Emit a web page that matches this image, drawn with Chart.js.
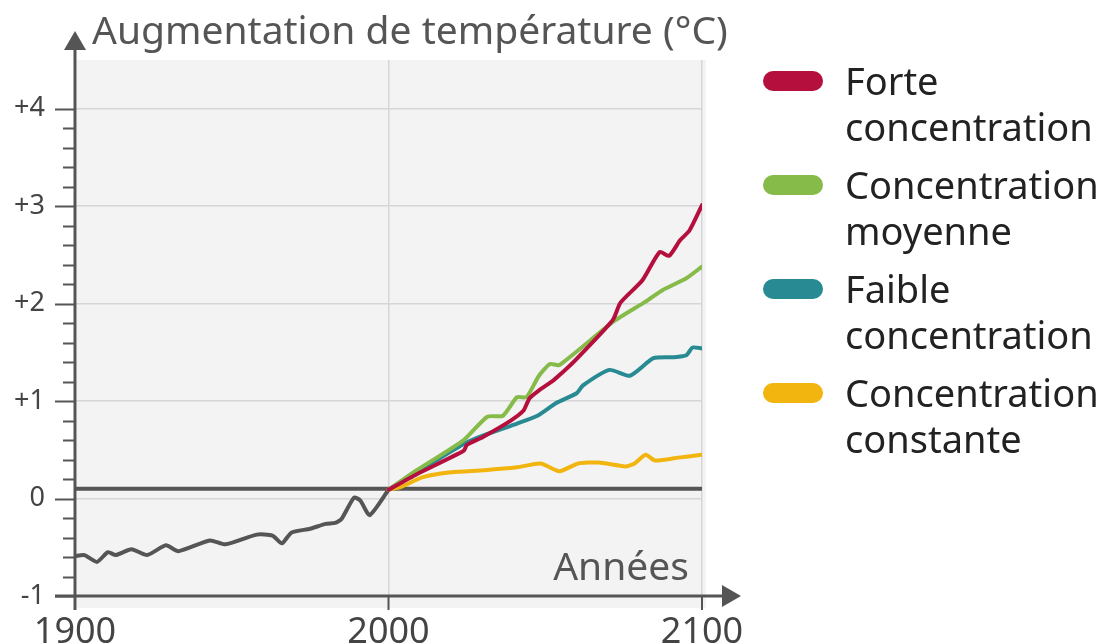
<!DOCTYPE html>
<html>
<head>
<meta charset="utf-8">
<script src="https://cdn.jsdelivr.net/npm/chart.js@4.4.1/dist/chart.umd.min.js"></script>
<style>
  html, body { margin: 0; padding: 0; background: #fff; }
  #wrap { position: relative; width: 1110px; height: 644px; overflow: hidden; }
  #legend { position: absolute; left: 763px; top: 57px; font-family: "Noto Sans", sans-serif; font-size: 38px; color: #222; }
  .item { position: relative; padding-left: 82px; line-height: 46px; margin-bottom: 12px; white-space: nowrap; }
  .swatch { position: absolute; left: 0; top: 14px; width: 60px; height: 20px; border-radius: 10px; }
</style>
</head>
<body>
<div id="wrap">
  <canvas id="chart" width="1110" height="644"></canvas>
  <div id="legend"></div>
</div>
<script>
// observed warming 1900-2000
const histYears  = [1900, 1903, 1907, 1910.5, 1913, 1918, 1923, 1929, 1933, 1943, 1948, 1958, 1963, 1966, 1969, 1975, 1980, 1983, 1985, 1989, 1991, 1994, 2000];
const histValues = [-0.59, -0.58, -0.65, -0.55, -0.58, -0.52, -0.58, -0.48, -0.54, -0.43, -0.47, -0.37, -0.38, -0.46, -0.35, -0.31, -0.26, -0.25, -0.21, 0.01, -0.02, -0.17, 0.09];

// scenarios 2000-2100
const forteYears  = [2000, 2009, 2024, 2025, 2030, 2039, 2043, 2045, 2048, 2052.5, 2055, 2059, 2071.5, 2074, 2081, 2086.5, 2089.5, 2093, 2096, 2100];
const forteValues = [0.09, 0.25, 0.49, 0.55, 0.63, 0.80, 0.90, 1.03, 1.11, 1.21, 1.28, 1.40, 1.83, 2.01, 2.24, 2.53, 2.49, 2.65, 2.75, 3.01];

const moyenneYears  = [2000, 2009, 2024, 2031.5, 2036.5, 2041, 2044, 2048, 2051.5, 2054.5, 2071.5, 2082, 2087.5, 2095, 2100];
const moyenneValues = [0.09, 0.29, 0.60, 0.84, 0.85, 1.04, 1.04, 1.26, 1.38, 1.37, 1.81, 2.02, 2.14, 2.26, 2.38];

const faibleYears  = [2000, 2009, 2024, 2030.5, 2041, 2047.5, 2053.5, 2060, 2062, 2070.5, 2077, 2084.5, 2091, 2095, 2097, 2100];
const faibleValues = [0.09, 0.27, 0.56, 0.65, 0.77, 0.85, 0.98, 1.08, 1.16, 1.32, 1.26, 1.44, 1.45, 1.47, 1.55, 1.54];

const constanteYears  = [2000, 2004, 2011, 2020, 2030.5, 2041, 2048.5, 2054.5, 2060.5, 2067, 2075.5, 2078.5, 2082, 2085, 2092.5, 2100];
const constanteValues = [0.09, 0.12, 0.22, 0.27, 0.29, 0.32, 0.36, 0.28, 0.36, 0.37, 0.33, 0.36, 0.45, 0.39, 0.42, 0.45];

const baselineValue = 0.1;

const seriesNames  = [["Forte", "concentration"], ["Concentration", "moyenne"], ["Faible", "concentration"], ["Concentration", "constante"]];
const seriesColors = ["#b5103d", "#86bb4a", "#288a93", "#f2b50f"];

const xTicks = [1900, 2000, 2100];
const yTicks = [-1, 0, 1, 2, 3, 4];

const yTitle = "Augmentation de température (°C)";
const xTitle = "Années";

const FONT = '"Noto Sans", sans-serif';
const AXIS = "#555";

function pts(xs, ys) {
  return xs.map((x, i) => ({ x: x, y: ys[i] }));
}

function lineSet(label, data, color, tension) {
  return {
    label: label, data: data, borderColor: color, borderWidth: 4,
    pointRadius: 0, tension: tension, borderJoinStyle: "round", borderCapStyle: "round", fill: false
  };
}

const datasets = [
  lineSet(seriesNames[0].join(" "), pts(forteYears, forteValues), seriesColors[0], 0.2),
  lineSet(seriesNames[1].join(" "), pts(moyenneYears, moyenneValues), seriesColors[1], 0.2),
  lineSet(seriesNames[2].join(" "), pts(faibleYears, faibleValues), seriesColors[2], 0.2),
  lineSet(seriesNames[3].join(" "), pts(constanteYears, constanteValues), seriesColors[3], 0.2),
  lineSet("Observé", pts(histYears, histValues), AXIS, 0.2),
  lineSet("Référence", pts([xTicks[0], xTicks[2]], [baselineValue, baselineValue]), AXIS, 0)
];

const decor = {
  id: "decor",
  beforeDraw(chart) {
    const ctx = chart.ctx, a = chart.chartArea;
    ctx.save();
    ctx.fillStyle = "#f3f3f3";
    ctx.fillRect(a.left + 2, a.top, a.right - a.left + 2, a.bottom - a.top + 12);
    ctx.restore();
  },
  afterDraw(chart) {
    const ctx = chart.ctx, a = chart.chartArea;
    const xs = chart.scales.x, ys = chart.scales.y;
    const x0 = xs.getPixelForValue(xTicks[0]);
    const y0 = ys.getPixelForValue(yTicks[0]);
    ctx.save();
    ctx.strokeStyle = AXIS;
    ctx.fillStyle = AXIS;
    ctx.lineWidth = 3;
    // y axis with arrow
    ctx.beginPath();
    ctx.moveTo(x0, y0 + 14);
    ctx.lineTo(x0, a.top - 14);
    ctx.stroke();
    ctx.beginPath();
    ctx.moveTo(x0, a.top - 29);
    ctx.lineTo(x0 - 11, a.top - 10);
    ctx.lineTo(x0 + 11, a.top - 10);
    ctx.closePath();
    ctx.fill();
    // x axis with arrow
    ctx.beginPath();
    ctx.moveTo(x0 - 20, y0);
    ctx.lineTo(a.right + 24, y0);
    ctx.stroke();
    ctx.beginPath();
    ctx.moveTo(a.right + 39, y0);
    ctx.lineTo(a.right + 20, y0 - 11);
    ctx.lineTo(a.right + 20, y0 + 11);
    ctx.closePath();
    ctx.fill();
    // y ticks, minor every 0.2
    ctx.lineWidth = 2;
    for (let i = 0; i <= 25; i++) {
      const v = yTicks[0] + i * 0.2;
      const py = Math.round(ys.getPixelForValue(v)) + 0.5;
      const len = i % 5 === 0 ? 20 : 12;
      ctx.beginPath();
      ctx.moveTo(x0 - len, py);
      ctx.lineTo(x0, py);
      ctx.stroke();
    }
    // x ticks
    xTicks.forEach(v => {
      const px = xs.getPixelForValue(v);
      ctx.beginPath();
      ctx.moveTo(px, y0);
      ctx.lineTo(px, y0 + 14);
      ctx.stroke();
    });
    // titles
    ctx.font = "39px " + FONT;
    ctx.textBaseline = "alphabetic";
    ctx.textAlign = "left";
    ctx.fillText(yTitle, x0 + 17, 44);
    ctx.textAlign = "right";
    ctx.fillText(xTitle, a.right - 13, y0 - 16);
    ctx.restore();
  }
};

new Chart(document.getElementById("chart"), {
  type: "line",
  data: { datasets: datasets },
  options: {
    responsive: false,
    animation: false,
    devicePixelRatio: 1,
    layout: { padding: { top: 60, right: 408, left: 0, bottom: 0 } },
    plugins: { legend: { display: false }, tooltip: { enabled: false } },
    scales: {
      x: {
        type: "linear", min: xTicks[0], max: xTicks[2],
        afterFit: s => { s.height = 48; },
        afterBuildTicks: s => { s.ticks = xTicks.map(v => ({ value: v })); },
        ticks: { color: "#444", font: { family: FONT, size: 36 }, padding: 15, maxRotation: 0, callback: v => String(v) },
        grid: { drawTicks: false, lineWidth: 1.5, color: c => c.tick && c.tick.value === xTicks[0] ? "transparent" : "#d6d6d6" },
        border: { display: false }
      },
      y: {
        type: "linear", min: yTicks[0], max: 4.5,
        afterFit: s => { s.width = 75; },
        afterBuildTicks: s => { s.ticks = yTicks.map(v => ({ value: v })); },
        ticks: { color: "#444", font: { family: FONT, size: 27 }, padding: 30, callback: v => v > 0 ? "+" + v : String(v) },
        grid: { drawTicks: false, lineWidth: 1.5, color: c => c.tick && c.tick.value === yTicks[0] ? "transparent" : "#d6d6d6" },
        border: { display: false }
      }
    }
  },
  plugins: [decor]
});

// html legend
const legend = document.getElementById("legend");
seriesNames.forEach((name, i) => {
  const item = document.createElement("div");
  item.className = "item";
  item.innerHTML = '<span class="swatch" style="background:' + seriesColors[i] + '"></span>' + name.join("<br>");
  legend.appendChild(item);
});
</script>
</body>
</html>
